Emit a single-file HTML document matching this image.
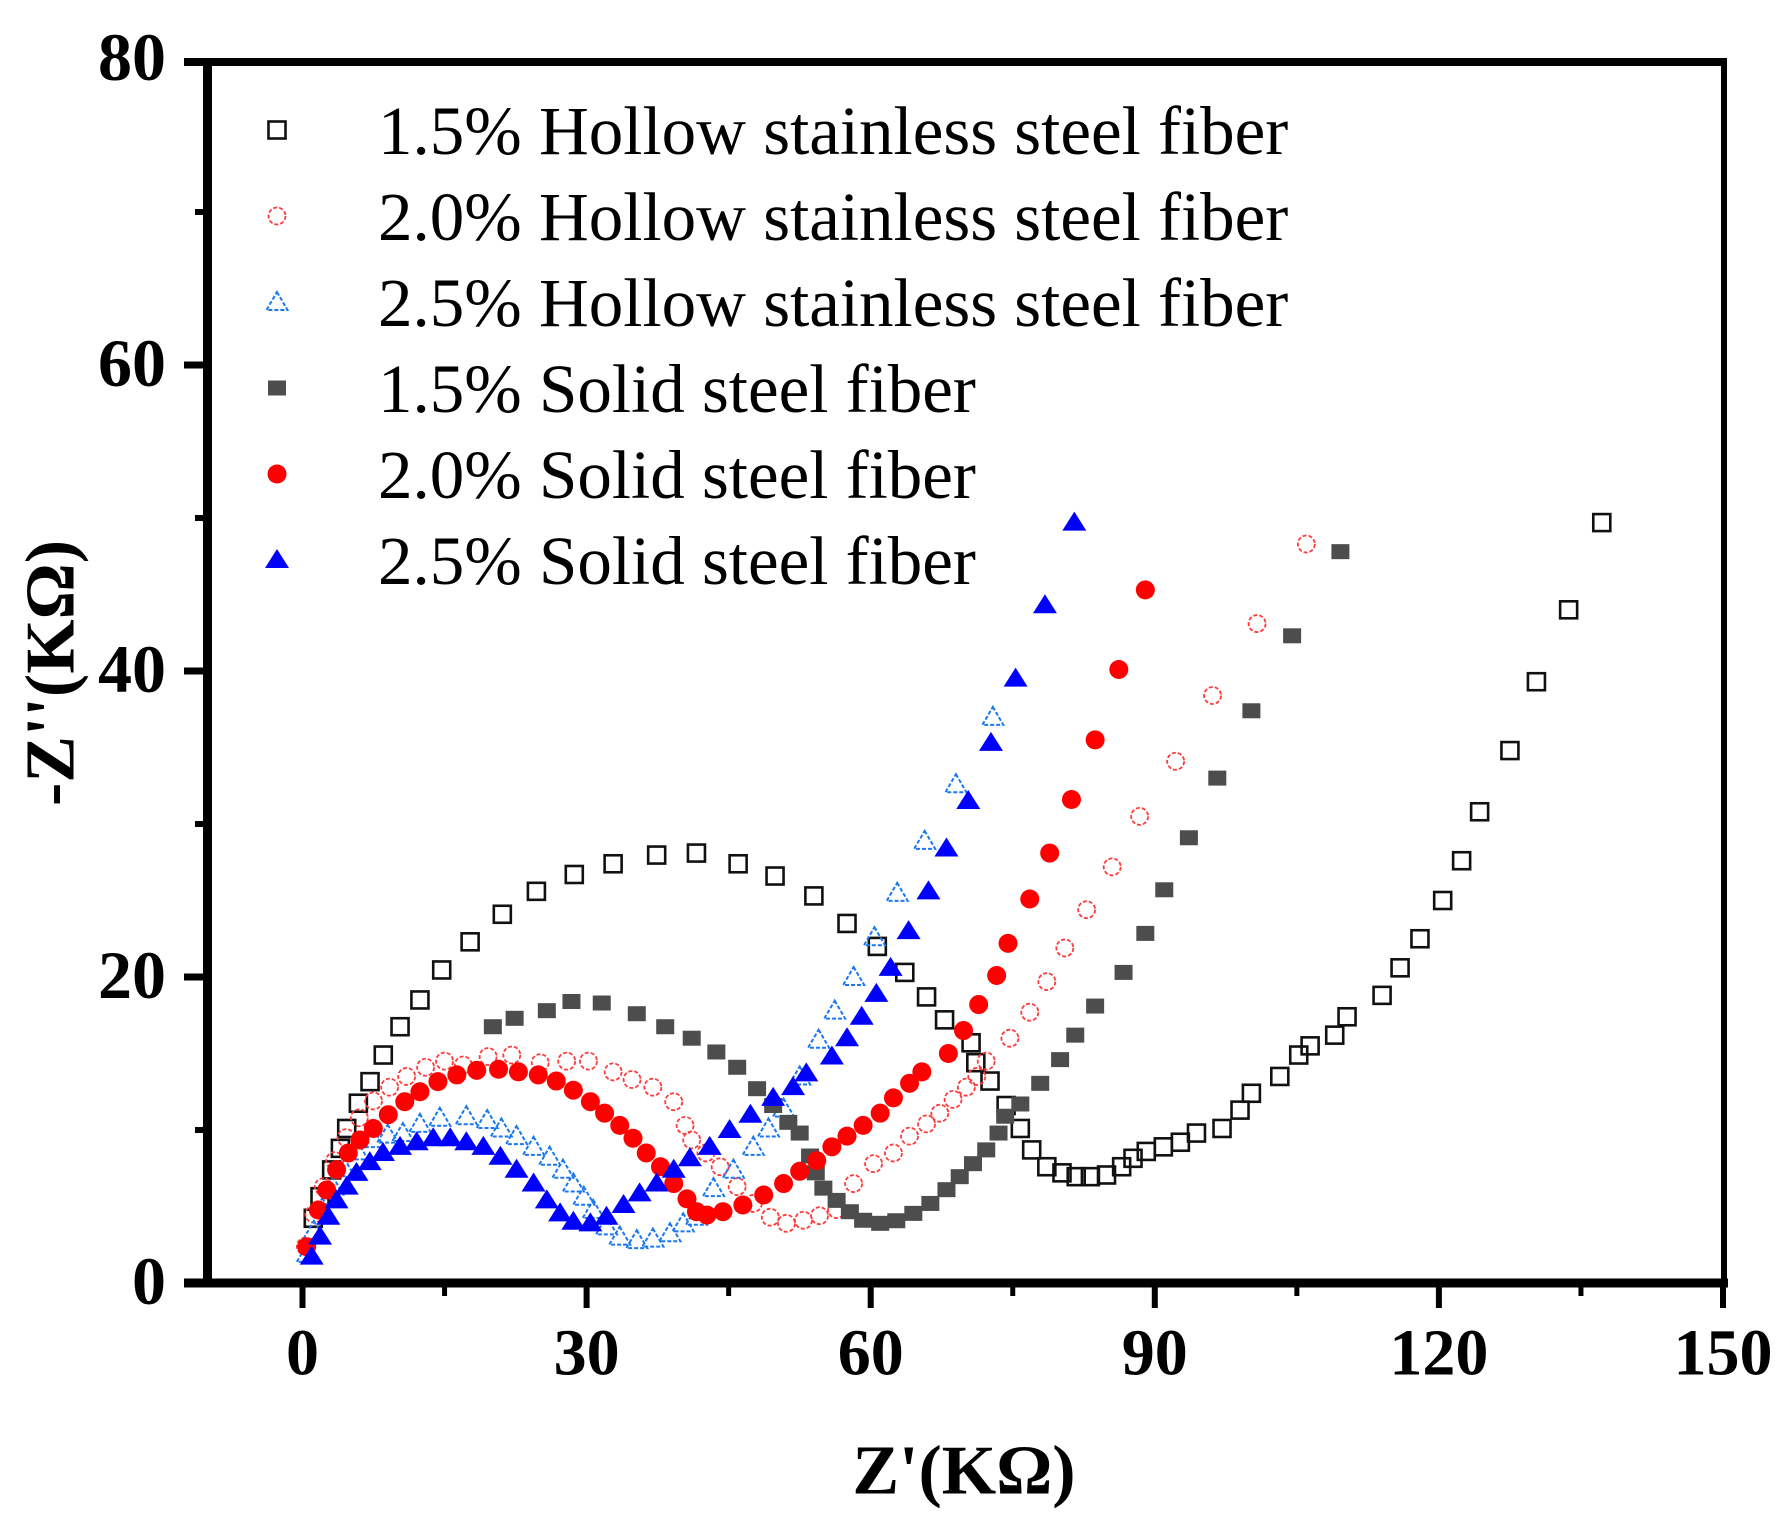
<!DOCTYPE html>
<html><head><meta charset="utf-8"><style>
html,body{margin:0;padding:0;background:#fff}
svg{display:block}
text{font-family:"Liberation Serif","DejaVu Serif",serif}
</style></head><body>
<svg id="chart" width="1786" height="1524" viewBox="0 0 1786 1524" xmlns="http://www.w3.org/2000/svg">
<g id="axes"></g>
<g id="series"></g>
<g id="legend"></g>
<text x="964" y="1471" text-anchor="middle" dominant-baseline="central" font-weight="bold" font-size="70">Z'(KΩ)</text>
<text x="51" y="673" text-anchor="middle" dominant-baseline="central" font-weight="bold" font-size="70" transform="rotate(-90 51 673)">-Z''(KΩ)</text>
</svg>
<script>
const xTicks=[0,30,60,90,120,150];
const xMinor=[15,45,75,105,135];
const yTicks=[0,20,40,60,80];
const yMinor=[10,30,50,70];
const seriesNames=["1.5% Hollow stainless steel fiber","2.0% Hollow stainless steel fiber","2.5% Hollow stainless steel fiber","1.5% Solid steel fiber","2.0% Solid steel fiber","2.5% Solid steel fiber"];
const h15x=[1.14,1.85,3.08,4.0,4.67,5.9,7.13,8.53,10.3,12.4,14.7,17.7,21.1,24.7,28.7,32.8,37.4,41.6,46.0,49.9,54.0,57.5,60.7,63.6,65.9,67.8,70.6,71.1,72.6,74.3,75.8,77.0,78.6,80.2,81.7,83.2,84.9,86.5,87.7,89.1,90.9,92.7,94.4,97.1,99.0,100.2,103.2,105.2,106.4,109.0,110.3,114.0,115.9,118.0,120.4,122.4,124.3,127.5,130.3,133.7,137.2];
const h15y=[4.23,5.64,7.39,8.8,10.1,11.75,13.16,14.9,16.75,18.5,20.46,22.3,24.1,25.6,26.7,27.4,27.97,28.1,27.4,26.6,25.3,23.5,22.0,20.3,18.7,17.2,15.7,14.4,13.2,11.6,10.1,8.7,7.6,7.2,6.95,6.95,7.06,7.6,8.15,8.6,8.9,9.2,9.8,10.1,11.3,12.4,13.5,14.9,15.5,16.2,17.4,18.8,20.6,22.5,25.0,27.6,30.8,34.8,39.3,44.0,49.7];
const h20x=[0.3,1.2,2.2,3.4,4.6,6.0,7.5,9.2,11.0,13.0,15.0,16.98,19.6,22.1,25.1,27.9,30.2,32.8,34.8,37.0,39.2,40.4,41.1,42.6,44.1,45.9,47.6,49.4,51.1,52.9,54.6,56.4,58.2,60.3,62.4,64.1,65.9,67.3,68.7,70.1,71.2,72.2,74.7,76.8,78.6,80.5,82.8,85.5,88.4,92.2,96.1,100.8,106.0];
const h20y=[2.4,4.5,6.3,8.0,9.5,10.8,11.9,12.8,13.5,14.1,14.5,14.25,14.8,14.9,14.4,14.5,14.5,13.8,13.3,12.8,11.85,10.3,9.35,8.5,7.6,6.3,5.2,4.3,3.9,4.1,4.4,4.8,6.5,7.8,8.5,9.6,10.4,11.1,12.0,12.8,13.5,14.5,16.0,17.7,19.7,21.9,24.4,27.2,30.5,34.1,38.4,43.1,48.3];
const h25x=[0.5,1.2,2.1,3.2,4.4,5.8,7.5,9.0,10.6,12.4,14.5,17.3,19.5,21.0,22.6,24.4,26.1,27.5,28.6,29.7,30.7,32.1,33.5,35.3,37.0,38.8,40.2,41.6,43.4,45.5,47.6,49.2,50.8,52.5,54.5,56.2,58.2,60.4,62.8,65.7,69.0,72.9];
const h25y=[1.9,3.4,4.9,6.3,7.5,8.6,9.4,9.7,9.8,10.4,10.8,10.9,10.65,10.1,9.6,8.9,8.25,7.4,6.5,5.64,4.77,3.7,3.03,2.8,2.9,3.25,3.9,4.33,6.2,7.4,8.9,10.1,11.4,13.5,15.9,17.8,20.0,22.6,25.5,28.9,32.6,37.0];
const s15x=[20.1,22.4,25.8,28.4,31.6,35.3,38.3,41.1,43.7,45.9,48.0,49.7,51.3,52.5,53.6,54.2,55.0,56.4,57.8,59.2,61.0,62.7,64.5,66.3,68.0,69.4,70.8,72.2,73.5,74.2,75.8,77.9,80.0,81.6,83.7,86.7,89.0,91.0,93.6,96.6,100.2,104.5,109.6];
const s15y=[16.75,17.3,17.8,18.4,18.3,17.6,16.75,16.0,15.1,14.1,12.7,11.6,10.5,9.8,8.3,7.2,6.2,5.4,4.66,4.1,3.9,4.07,4.55,5.2,6.1,6.95,7.8,8.7,9.8,10.9,11.7,13.05,14.6,16.2,18.1,20.3,22.85,25.7,29.1,33.0,37.4,42.3,47.8];
const s20x=[0.44,1.67,2.55,3.6,4.84,6.07,7.48,9.06,10.8,12.4,14.3,16.3,18.4,20.7,22.8,24.9,26.8,28.6,30.4,31.9,33.5,34.9,36.3,37.8,39.2,40.6,41.6,42.7,44.4,46.5,48.7,50.8,52.5,54.3,55.9,57.5,59.2,61.0,62.4,64.1,65.4,68.2,69.8,71.4,73.3,74.5,76.8,78.9,81.2,83.7,86.2,89.0];
const s20y=[2.37,4.77,6.08,7.4,8.5,9.35,10.1,11.0,11.85,12.5,13.16,13.6,13.9,13.97,13.8,13.6,13.2,12.6,11.85,11.1,10.3,9.46,8.5,7.6,6.5,5.5,4.66,4.44,4.66,5.1,5.75,6.5,7.3,8.0,8.9,9.6,10.3,11.1,12.1,13.05,13.8,15.0,16.5,18.2,20.1,22.2,25.1,28.1,31.6,35.5,40.1,45.3];
const s25x=[0.97,1.85,2.73,3.6,4.67,5.7,7.1,8.5,10.3,12.06,13.8,15.6,17.3,19.1,20.9,22.6,24.4,25.8,27.2,28.6,30.4,32.1,33.9,35.6,37.4,39.2,40.9,43.0,45.1,47.3,49.7,51.8,53.2,55.9,57.5,59.05,60.6,62.1,64.0,66.1,68.0,70.3,72.7,75.3,78.4,81.5];
const s25y=[1.72,3.03,4.33,5.4,6.3,7.2,7.9,8.5,8.9,9.2,9.46,9.46,9.2,8.9,8.25,7.4,6.5,5.4,4.55,4.0,3.9,4.33,5.1,5.86,6.5,7.4,8.15,8.9,10.0,11.0,12.1,12.8,13.7,14.8,16.0,17.4,18.9,20.6,23.0,25.6,28.4,31.5,35.3,39.5,44.3,49.7];

const NS="http://www.w3.org/2000/svg";
const X0=302.5, XS=9.47, Y0=1283, YS=15.3;
function sx(v){return X0+v*XS;}
function sy(v){return Y0-v*YS;}
function mk(tag,attrs,parent){const e=document.createElementNS(NS,tag);for(const k in attrs)e.setAttribute(k,attrs[k]);parent.appendChild(e);return e;}
const axes=document.getElementById('axes');
// frame
let e;
e=mk('line',{x1:207.5,y1:58,x2:207.5,y2:1287,stroke:'#000','stroke-width':9},axes);


e=mk('line',{x1:184,y1:1283,x2:1728,y2:1283,stroke:'#000','stroke-width':9},axes);


e=mk('line',{x1:184,y1:62,x2:1727,y2:62,stroke:'#000','stroke-width':8},axes);


e=mk('line',{x1:1724,y1:58,x2:1724,y2:1287,stroke:'#000','stroke-width':6},axes);


xTicks.forEach(v=>{
  const t=mk('line',{x1:sx(v),y1:1283,x2:sx(v),y2:1308,stroke:'#000','stroke-width':6},axes);
  
  
  const l=mk('text',{x:sx(v),y:1353,'text-anchor':'middle','dominant-baseline':'central','font-weight':'bold','font-size':66},axes);
  l.textContent=v;
  
  
});
xMinor.forEach(v=>{
  const t=mk('line',{x1:sx(v),y1:1283,x2:sx(v),y2:1296,stroke:'#000','stroke-width':5},axes);
  
  
});
yTicks.forEach(v=>{
  const t=mk('line',{x1:184,y1:sy(v)+(v===80?3:0),x2:208,y2:sy(v)+(v===80?3:0),stroke:'#000','stroke-width':7},axes);
  
  
  const l=mk('text',{x:166,y:sy(v)-2,'text-anchor':'end','dominant-baseline':'central','font-weight':'bold','font-size':68},axes);
  l.textContent=v;
  
  
});
yMinor.forEach(v=>{
  const t=mk('line',{x1:195,y1:sy(v),x2:208,y2:sy(v),stroke:'#000','stroke-width':6},axes);
  
  
});
// markers
function marker(kind,cx,cy,parent){
  if(kind===0) return mk('rect',{x:cx-8.5,y:cy-8.5,width:17,height:17,fill:'none',stroke:'#111','stroke-width':2.6},parent);
  if(kind===1) return mk('circle',{cx:cx,cy:cy,r:8.5,fill:'none',stroke:'#ff3b3b','stroke-width':1.8,'stroke-dasharray':'4 2'},parent);
  if(kind===2) return mk('polygon',{points:`${cx},${cy-10} ${cx+10.5},${cy+8} ${cx-10.5},${cy+8}`,fill:'none',stroke:'#1a78f0','stroke-width':2,'stroke-dasharray':'4 2'},parent);
  if(kind===3) return mk('rect',{x:cx-9,y:cy-7.5,width:18,height:15,fill:'#4d4d4d'},parent);
  if(kind===4) return mk('circle',{cx:cx,cy:cy,r:9.5,fill:'#ff0000'},parent);
  return mk('polygon',{points:`${cx},${cy-11} ${cx+12},${cy+8} ${cx-12},${cy+8}`,fill:'#0000ff'},parent);
}
const series=[[h15x,h15y],[h20x,h20y],[h25x,h25y],[s15x,s15y],[s20x,s20y],[s25x,s25y]];
const sNames=['series-1.5-hollow','series-2.0-hollow','series-2.5-hollow','series-1.5-solid','series-2.0-solid','series-2.5-solid'];
const sg=document.getElementById('series');
series.forEach((s,k)=>{
  const g=mk('g',{},sg);
  
  
  s[0].forEach((xv,i)=>{
    const m=marker(k,sx(xv),sy(s[1][i]),g);
    
    
  });
});
// legend
const lg=document.getElementById('legend');
const rows=[130,216,302,388,474,560];
seriesNames.forEach((n,k)=>{
  const g=mk('g',{},lg);
  
  
  const m=marker(k,277,rows[k],g);
  
  
  const t=mk('text',{x:378,y:rows[k]+24,'font-size':69},g);
  t.textContent=n;
  
  
});
</script>
</body></html>
